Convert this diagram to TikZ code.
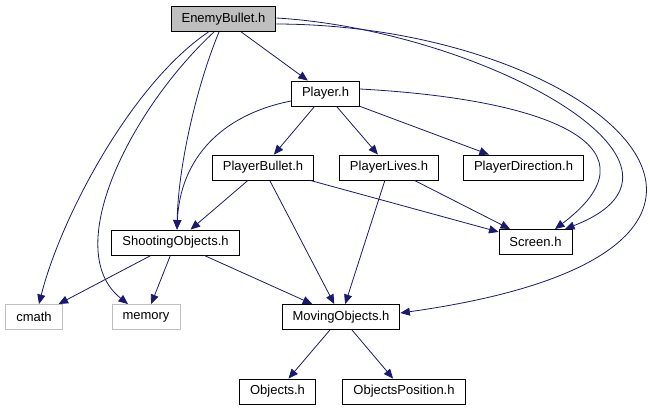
\documentclass[tikz,border=0pt]{standalone}
\usepackage{fontspec}
\setmainfont{Liberation Sans}
\usetikzlibrary{arrows.meta}
\definecolor{EdgeBlue}{RGB}{25,25,112}
\definecolor{SysGray}{RGB}{191,191,191}

\begin{document}
\begin{tikzpicture}[x=1pt,y=-1pt,
  f/.style={rectangle,draw=black,line width=0.9pt,minimum height=25pt,inner xsep=10.5pt,font=\fontsize{13}{15}\selectfont},
  sys/.style={f,draw=SysGray},
  dep/.style={draw=EdgeBlue,line width=0.8pt,-{Triangle[length=9.5pt,width=8pt]}}
]
  \useasboundingbox (0,0) rectangle (650,411);
  \node[f,fill=SysGray] (eb) at (223.5,19) {EnemyBullet.h};
  \node[f] (pl) at (325.5,93.5) {Player.h};
  \node[f] (pb) at (263,167.5) {PlayerBullet.h};
  \node[f] (plv) at (389,167.5) {PlayerLives.h};
  \node[f] (pd) at (523.5,167.5) {PlayerDirection.h};
  \node[f] (so) at (175.5,242.5) {ShootingObjects.h};
  \node[f] (scr) at (535.5,242) {Screen.h};
  \node[sys] (cm) at (34,317) {cmath};
  \node[sys] (mem) at (146,317) {memory};
  \node[f] (mo) at (341,317) {MovingObjects.h};
  \node[f] (obj) at (277.5,391.5) {Objects.h};
  \node[f] (op) at (404,391.5) {ObjectsPosition.h};
  % EnemyBullet.h
  \draw[dep] (eb)--(pl);
  \draw[dep] ([xshift=-4.5pt]eb.south) .. controls (195,90) and (178,170) .. ([xshift=1.5pt]so.north);
  \draw[dep] ([xshift=-15pt]eb.south) .. controls (130,85) and (60,220) .. ([xshift=5pt]cm.north);
  \draw[dep] ([xshift=-9.5pt]eb.south) .. controls (130,110) and (60,250) .. ([xshift=-18pt]mem.north);
  \draw[dep] ([yshift=1pt]eb.east) .. controls (480,30) and (730,165) .. ([xshift=29.5pt]scr.north);
  \draw[dep] ([yshift=-5pt]eb.east) .. controls (600,25) and (850,250) .. ([yshift=4pt]mo.east);
  % Player.h
  \draw[dep] (pl)--(pb);
  \draw[dep] (pl)--(plv);
  \draw[dep] (pl)--(pd);
  \draw[dep] ([yshift=-7.5pt]pl.west) .. controls (220,115) and (180,160) .. ([xshift=1.5pt]so.north);
  \draw[dep] ([yshift=4.5pt]pl.east) .. controls (560,100) and (660,150) .. ([xshift=19.5pt]scr.north);
  % second row
  \draw[dep] (pb)--(so);
  \draw[dep] (pb)--(mo);
  \draw[dep] (pb)--(scr);
  \draw[dep] (plv)--(scr);
  \draw[dep] (plv)--(mo);
  \draw[dep] (so)--(cm);
  \draw[dep] (so)--(mem);
  \draw[dep] (so)--(mo);
  \draw[dep] (mo)--(obj);
  \draw[dep] (mo)--(op);
\end{tikzpicture}
\end{document}
